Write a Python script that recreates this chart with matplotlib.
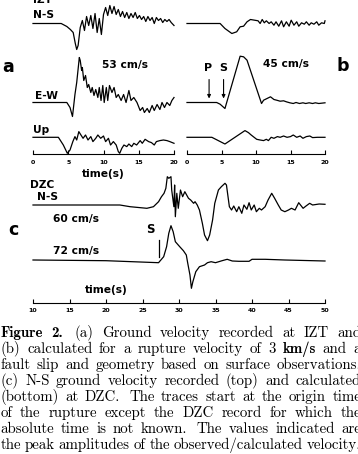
import matplotlib
matplotlib.use("Agg")
import matplotlib.pyplot as plt

W, H = 358, 454

# --- IZT recorded (a), time in s, amplitude in px above baseline ---
a_ns_t = [0, 4.0, 4.8, 5.3, 5.7, 6.0, 6.2, 6.4, 6.7, 7.0, 7.3, 7.6, 7.9, 8.2, 8.5, 8.8, 9.1, 9.4, 9.7,
          10.0, 10.3, 10.6, 10.9, 11.2, 11.5, 11.8, 12.1, 12.4, 12.7, 13.0, 13.3, 13.6, 13.9, 14.2, 14.5,
          14.8, 15.1, 15.4, 15.7, 16.0, 16.3, 16.6, 16.9, 17.2, 17.5, 17.8, 18.1, 18.4, 18.7, 19.0, 19.3,
          19.6, 20.0]
a_ns_v = [0, 0, -3, -6, -9, -20, -26, -22, -4, 3, -7, 7, -2, 8, -5, 10, -9, 5, -11,
          9, 16, 8, 18, 10, 17, 9, 14, 7, 12, 6, 11, 5, 10, 6, 11,
          5, 8, 4, 7, 2, 7, 3, 6, 0, 6, 3, 5, 1, 4, 2, 4,
          1, -2]

a_ew_t = [0, 4.8, 5.25, 5.6, 5.95, 6.2, 6.57, 6.7, 6.9, 7.0, 7.2, 7.45, 7.7, 7.9, 8.2, 8.4, 8.65, 8.9,
          9.2, 9.4, 9.65, 9.9, 10.1, 10.4, 10.6, 10.85, 11.2, 11.5, 11.8, 12.1, 12.5, 12.85, 13.2, 13.6,
          13.9, 14.3, 14.75, 15.2, 15.55, 15.8, 16.2, 16.5, 16.9, 17.2, 17.6, 18.0, 18.3, 18.65, 19.0,
          19.4, 19.7, 20.0]
a_ew_v = [0, 0, -5, -14, 8, 20, 45, 42, 32, 35, 22, 27, 15, 18, 10, 15, 7, 13,
          5, 15, 2, 17, 0, 15, 2, 17, 10, 15, 5, 8, 2, 8, 0, 12,
          2, 5, 0, -8, -5, -10, -6, -10, -3, -8, -2, -7, 0, -5, 0,
          -3, 2, 5]

a_up_t = [0, 3.6, 4.3, 4.87, 5.25, 5.65, 5.95, 6.2, 6.5, 6.8, 7.1, 7.45, 7.8, 8.2, 8.5, 8.9, 9.2, 9.6,
          10.0, 10.3, 10.7, 11.0, 11.4, 11.8, 12.1, 12.3, 12.6, 12.9, 13.3, 13.6, 14.0, 14.3, 14.7, 15.2,
          15.5, 15.9, 16.4, 16.8, 17.2, 17.5, 18.0, 18.5, 19.0, 19.4, 20.0]
a_up_v = [0, 0, -7.7, -16, -12.7, -4.3, 0.7, -2.7, 5.7, 2.3, -1, 2.3, -2.7, 0.7, -4.3, -1, 2.3, -1,
          1.3, -4.3, -1, -7.7, -4.3, -7.7, -14.3, -16, -11, -7.7, -9.3, -6.7, -9.3, -6, -7.7, -3.3,
          -6, -2, -4.3, -5.3, -7.7, -4.3, -3.3, -2.7, -3.3, -4.3, -6]

# --- IZT calculated (b) ---
b_ns_t = [0, 4.8, 5.5, 6.5, 7.2, 7.7, 8.2, 8.7, 9.2, 9.8, 10.3, 10.6, 10.9, 11.2, 11.5, 11.9, 12.2,
          12.6, 12.9, 13.3, 13.7, 14.0, 14.4, 14.8, 15.1, 15.5, 15.9, 16.2, 16.6, 17.0, 17.3, 17.7,
          18.0, 18.4, 18.8, 19.1, 19.5, 19.9, 20.0]
b_ns_v = [0, 0, -5, -10, -8.3, -3.3, -2.7, 1.7, 4, 3.3, 2.7, 0, 4, 0.7, 2.7, 0, 1.7,
          -1.7, 1.7, -2.7, 2.7, -3.3, 1.7, -2.7, 3.3, -1.7, 1.7, -2.7, 0.7, -0.7, 1.7, -1.7,
          0.7, -0.7, 1.7, -1.7, 0.7, 0, 2.7]

b_ew_t = [0, 4.3, 4.8, 5.5, 7.7, 8.2, 8.7, 10.8, 11.1, 11.6, 12.1, 12.6, 13.0, 13.5, 14.0, 14.4,
          14.9, 15.4, 15.8, 16.3, 16.8, 17.2, 17.7, 18.2, 18.6, 19.1, 20.0]
b_ew_v = [0, 0, -1.7, -6, 46.3, 45.7, 42.3, -1, 2.3, 4, 5.7, 3, 2.3, 1.3, 1.7, 0.7,
          -0.3, -1, 0, -1, -0.3, -1, -0.3, -1, -0.3, -1, -0.3]

b_up_t = [0, 3.6, 5.5, 8.4, 8.9, 9.3, 10.1, 10.6, 11.1, 11.5, 11.8, 12.2, 12.6, 13.1, 13.5, 14.0,
          14.5, 15.0, 15.4, 15.9, 16.4, 16.8, 17.3, 17.8, 18.2, 18.9, 20.0]
b_up_v = [0, 0, -6.7, 6.7, 4.7, 2.3, -2, -2.7, -3.3, -2, -3.3, 0, -1, 0.7, 0, 1.3,
          0, 0.7, 2.3, 0, 1.3, -1, 0.7, 1.3, -0.3, 0, 0]

# --- DZC N-S (c): recorded (top) and calculated (bottom) ---
c_obs_t = [10, 21.9, 23.3, 25.6, 26.5, 27.2, 27.6, 27.95, 28.2, 28.4, 28.6, 28.9, 29.0, 29.3, 29.4,
           29.5, 29.7, 29.9, 30.2, 30.5, 30.8, 31.3, 31.6, 32.0, 32.2, 32.5, 32.8, 33.2, 33.5, 33.9,
           34.2, 34.6, 34.9, 35.4, 35.8, 36.3, 36.5, 36.9, 37.2, 37.5, 37.9, 38.2, 38.6, 38.9, 39.3,
           39.6, 39.9, 40.3, 40.6, 41.0, 41.3, 41.8, 42.2, 42.7, 43.1, 43.6, 44.0, 44.5, 45.0, 45.4,
           45.9, 46.4, 47.0, 47.4, 47.9, 48.3, 49.2, 50.0]
c_obs_v = [0, 0, -1.7, -3.3, -1.7, 3.3, 8.3, 11.7, 16.7, 28.3, 26.7, 28.3, 15, -1.7, 20,
           -11.7, 11.7, -3.3, 15, 8.3, 13.3, 6.7, 5, 1.7, 3.3, 0, -5, -18.3, -30, -35.7,
           -30, -15, 1.7, 15, 18.3, 21.7, 20, -1.7, -5, -1, -6.7, -1.7, -8.3, 0, -4.3,
           2.3, -5, 0, -6.7, -3.3, -5, -1.7, 5, 11.7, 6.7, 0, -5, -6.7, -5, -3.3,
           -5, 2.3, -3.3, -1, 1.7, 0, 1, 0.7]

c_syn_t = [10, 20, 27.2, 27.9, 28.3, 28.6, 28.9, 29.2, 29.5, 30.1, 30.6, 31.0, 31.2, 31.5, 31.7,
           31.9, 32.3, 32.8, 33.5, 33.9, 34.4, 35.0, 35.9, 36.6, 37.3, 38.2, 39.6, 40.0, 41.8, 44.5, 50]
c_syn_v = [0, -0.7, -2.7, 3.3, 13.3, 26.7, 34.3, 28.3, 18.3, 13.3, 9.3, 5, -3.3, -15, -28.3,
           -21.7, -11.7, -6.7, -5, -2.7, -1.7, -2.7, -0.7, 0.7, -1, -1.3, -1.3, 0.7, 0.7, 0, -1]

ticks_ab = [0, 5, 10, 15, 20]
ticks_c = [10, 15, 20, 25, 30, 35, 40, 45, 50]

caption = [
    "Figure 2. (a) Ground velocity recorded at IZT and",
    "(b) calculated for a rupture velocity of 3 km/s and a",
    "fault slip and geometry based on surface observations.",
    "(c) N-S ground velocity recorded (top) and calculated",
    "(bottom) at DZC. The traces start at the origin time",
    "of the rupture except the DZC record for which the",
    "absolute time is not known. The values indicated are",
    "the peak amplitudes of the observed/calculated velocity.",
]
bold_words = {(0, 0), (0, 1), (1, 8)}

fig = plt.figure(figsize=(W / 100, H / 100), dpi=100)


def fx(x):
    return x / W


def fy(row):
    return 1 - row / H


def panel(x0, x1, t0, t1):
    ax = fig.add_axes([fx(x0), 0, (x1 - x0) / W, 1])
    ax.set_xlim(t0, t1)
    ax.set_ylim(H, 0)
    ax.axis("off")
    return ax


def trace(ax, t, v, base):
    ax.plot(t, [base - a for a in v], color="black", lw=0.9, clip_on=False)


def time_axis(x0, x1, row, ticks):
    ax = fig.add_axes([fx(x0), fy(row), (x1 - x0) / W, 0.001])
    ax.set_xlim(ticks[0], ticks[-1])
    ax.set_xticks(ticks)
    ax.set_yticks([])
    for s in ("top", "left", "right"):
        ax.spines[s].set_visible(False)
    ax.spines["bottom"].set_linewidth(0.8)
    ax.tick_params(axis="x", direction="in", length=3, width=0.8, pad=4, labelsize=4.5)
    ax.patch.set_visible(False)
    for lab in ax.get_xticklabels():
        lab.set_fontweight("bold")
    return ax


def label(x, row, s, size=7.7, ha="left"):
    fig.text(fx(x), fy(row), s, ha=ha, va="baseline", fontsize=size,
             fontweight="bold", family="DejaVu Sans")


# panel a
ax_a = panel(33, 174, 0, 20)
trace(ax_a, a_ns_t, a_ns_v, 23.5)
trace(ax_a, a_ew_t, a_ew_v, 102.5)
trace(ax_a, a_up_t, a_up_v, 137.3)
time_axis(33, 174, 154.5, ticks_ab)

# panel b
ax_b = panel(187, 325, 0, 20)
trace(ax_b, b_ns_t, b_ns_v, 23.5)
trace(ax_b, b_ew_t, b_ew_v, 102.5)
trace(ax_b, b_up_t, b_up_v, 137.3)
time_axis(187, 325, 154.5, ticks_ab)
for t_arr in (3.2, 5.3):
    ax_b.annotate("", xy=(t_arr, 98.5), xytext=(t_arr, 79.5),
                  arrowprops=dict(arrowstyle="-|>", lw=0.8, color="black",
                                  mutation_scale=5, shrinkA=0, shrinkB=0))

# panel c
ax_c = panel(33, 325, 10, 50)
trace(ax_c, c_obs_t, c_obs_v, 205)
trace(ax_c, c_syn_t, c_syn_v, 260)
ax_c.plot([27.2, 27.2], [240, 256.5], color="black", lw=0.9)
time_axis(33, 325, 302.5, ticks_c)

# text labels
label(33, 3, "IZT")
label(33.5, 18.5, "N-S")
label(35, 99.3, "E-W")
label(33.5, 132.7, "Up")
label(102, 68, "53 cm/s")
label(263, 66.7, "45 cm/s")
label(204, 70.7, "P", 8)
label(219.3, 70.7, "S", 8)
label(8.5, 71.7, "a", 12.5, "center")
label(343, 70.7, "b", 12.5, "center")
label(82, 177, "time(s)")
label(30, 188.3, "DZC")
label(36.5, 200, "N-S")
label(53, 221.7, "60 cm/s")
label(13, 235, "c", 12.5, "center")
label(146, 233.3, "S", 8.5)
label(53, 254, "72 cm/s")
label(85, 293, "time(s)")

# caption, justified between the page margins
renderer = fig.canvas.get_renderer()
left, right = 0.5, 361.0
base_size = 10.0
lines = []
for i, line in enumerate(caption):
    words = line.split(" ")
    texts = []
    for j, w in enumerate(words):
        fam = "cmb10" if (i, j) in bold_words else "cmr10"
        texts.append(fig.text(0, 0, w, ha="left", va="baseline",
                              fontsize=base_size, family=fam))
    lines.append((words, texts))

# largest size at which the tightest line still keeps a thin word space
space_em = 0.25
size = 99.0
for words, texts in lines:
    natural = sum(t.get_window_extent(renderer).width for t in texts)
    em = base_size * 100 / 72
    need = natural + space_em * em * (len(words) - 1)
    size = min(size, base_size * (right - left) / need)

row = 337.3
for words, texts in lines:
    for t in texts:
        t.set_fontsize(size)
        t.set_y(fy(row))
    widths = [t.get_window_extent(renderer).width for t in texts]
    weights = [1.4 if w.endswith(".") else 1.0 for w in words[:-1]]
    gap = (right - left - sum(widths)) / sum(weights)
    x = left
    for t, w, k in zip(texts, widths, weights + [0]):
        t.set_x(fx(x))
        x += w + gap * k
    row += 15.9

fig.savefig("out.png", dpi=100)
